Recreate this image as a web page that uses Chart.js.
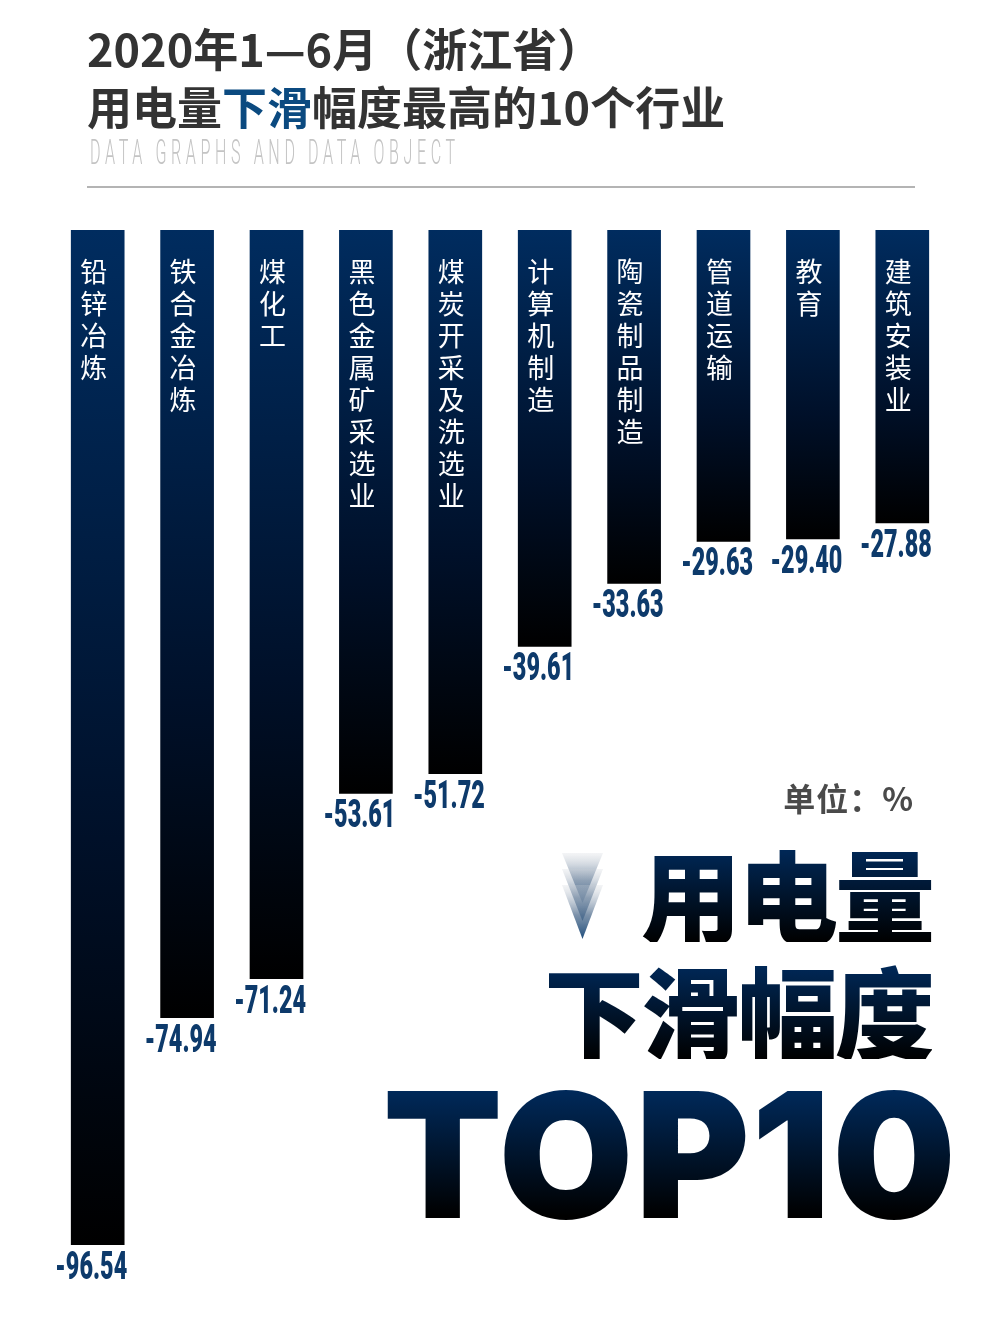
<!DOCTYPE html>
<html>
<head>
<meta charset="utf-8">
<script src="https://cdn.jsdelivr.net/npm/chart.js@4"></script>
<style>
  html, body { margin: 0; padding: 0; background: #fff; }
  #wrap { position: relative; width: 1000px; height: 1344px; overflow: hidden; background: #fff; }
  #plot { position: absolute; left: 0; top: 0; }
  .t { position: absolute; white-space: nowrap; font-family: "Noto Sans CJK SC", sans-serif; }
  #title { left: 87px; top: 19px; font-size: 45px; line-height: 58px; font-weight: 700; color: #333; }
  #title .hl { color: #0b4a80; }
  #sub { left: 90px; top: 134px; font-family: Roboto, sans-serif; font-weight: 300; font-size: 35px; line-height: 38px;
         color: #c4c4c4; letter-spacing: 10px; transform: scaleX(0.46); transform-origin: left top; }
  #rule { position: absolute; left: 87px; top: 186px; width: 828px; height: 2px; background: #b4b4b4; }
  #unit { right: 86px; top: 776px; font-size: 32px; line-height: 42px; font-weight: 700; color: #4a4a4a; letter-spacing: 1px; }
  .big { right: 68px; font-size: 100px; line-height: 100px; font-weight: 900; letter-spacing: -3px;
         background: linear-gradient(#002b5e, #000); -webkit-background-clip: text; background-clip: text; color: transparent; }
  #big1 { top: 842px; }
  #big2 { top: 959px; }
  #top10 { right: 42px; top: 1068px; font-family: Inter, sans-serif; font-size: 174px; line-height: 174px; font-weight: 900;
           letter-spacing: 2px; background: linear-gradient(#002b5e 10%, #000 85%); -webkit-background-clip: text; background-clip: text; color: transparent; }
  #arrow { position: absolute; left: 560px; top: 851px; }
</style>
</head>
<body>
<div id="wrap">
  <canvas id="plot" width="1000" height="1344"></canvas>
  <div class="t" id="title">2020年1—6月（浙江省）<br>用电量<span class="hl">下滑</span>幅度最高的10个行业</div>
  <div class="t" id="sub">DATA GRAPHS AND DATA OBJECT</div>
  <div id="rule"></div>
  <div class="t" id="unit">单位：%</div>
  <svg id="arrow" width="46" height="92" viewBox="0 0 46 92">
    <defs>
      <linearGradient id="ag" x1="0" y1="0" x2="0" y2="1">
        <stop offset="0" stop-color="#d0d4da" stop-opacity="0.25"/>
        <stop offset="0.55" stop-color="#5d7896" stop-opacity="0.8"/>
        <stop offset="1" stop-color="#1f4d7c" stop-opacity="1"/>
      </linearGradient>
    </defs>
    <polygon points="2,2 43,2 22.5,52" fill="url(#ag)"/>
    <polygon points="2,18 43,18 22.5,70" fill="url(#ag)"/>
    <polygon points="2,34 43,34 22.5,88" fill="url(#ag)"/>
  </svg>
  <div class="t big" id="big1">用电量</div>
  <div class="t big" id="big2">下滑幅度</div>
  <div class="t" id="top10">TOP10</div>
</div>
<script>
// 行业 / 用电量同比 (%)
const industries = ["铅锌冶炼", "铁合金冶炼", "煤化工", "黑色金属矿采选业", "煤炭开采及洗选业",
                    "计算机制造", "陶瓷制品制造", "管道运输", "教育", "建筑安装业"];
const changePct = [-96.54, -74.94, -71.24, -53.61, -51.72, -39.61, -33.63, -29.63, -29.40, -27.88];
const valueLabels = ["-96.54", "-74.94", "-71.24", "-53.61", "-51.72", "-39.61", "-33.63", "-29.63", "-29.40", "-27.88"];

function barGradient(c) {
  const chart = c.chart;
  if (!chart.chartArea || c.dataIndex === undefined) return "#001a3a";
  const y = chart.scales.y;
  const top = y.getPixelForValue(0);
  const bottom = y.getPixelForValue(c.raw);
  const g = chart.ctx.createLinearGradient(0, top, 0, bottom);
  g.addColorStop(0, "#002c5f");
  g.addColorStop(0.6, "#001029");
  g.addColorStop(1, "#000000");
  return g;
}

const labelPlugin = {
  id: "barLabels",
  afterDatasetsDraw(chart) {
    const ctx = chart.ctx;
    const meta = chart.getDatasetMeta(0);
    meta.data.forEach((bar, i) => {
      const half = bar.width / 2;
      // vertical industry name inside bar
      ctx.save();
      ctx.fillStyle = "#ffffff";
      ctx.font = "400 27px 'Noto Sans CJK SC'";
      ctx.textAlign = "center";
      ctx.textBaseline = "top";
      Array.from(industries[i]).forEach((ch, k) => {
        ctx.fillText(ch, bar.x - 4, 258 + k * 32);
      });
      ctx.restore();
      // value under bar, condensed, right aligned to bar edge
      ctx.save();
      ctx.fillStyle = "#0d3a6b";
      ctx.font = "900 39px Roboto";
      ctx.textAlign = "right";
      ctx.textBaseline = "alphabetic";
      ctx.translate(bar.x + half + 3, bar.y + 34);
      ctx.scale(0.6, 1);
      ctx.fillText(valueLabels[i], 0, 0);
      ctx.restore();
    });
  }
};

new Chart(document.getElementById("plot").getContext("2d"), {
  type: "bar",
  data: {
    labels: industries,
    datasets: [{
      data: changePct,
      backgroundColor: barGradient,
      borderWidth: 0,
      barThickness: 53
    }]
  },
  options: {
    responsive: false,
    animation: false,
    devicePixelRatio: 1,
    layout: { padding: { top: 230, bottom: 63, left: 53, right: 53 } },
    scales: {
      x: { display: false },
      y: { display: false, min: -100, max: 0 }
    },
    plugins: {
      legend: { display: false },
      tooltip: { enabled: false }
    }
  },
  plugins: [labelPlugin]
});
</script>
</body>
</html>
